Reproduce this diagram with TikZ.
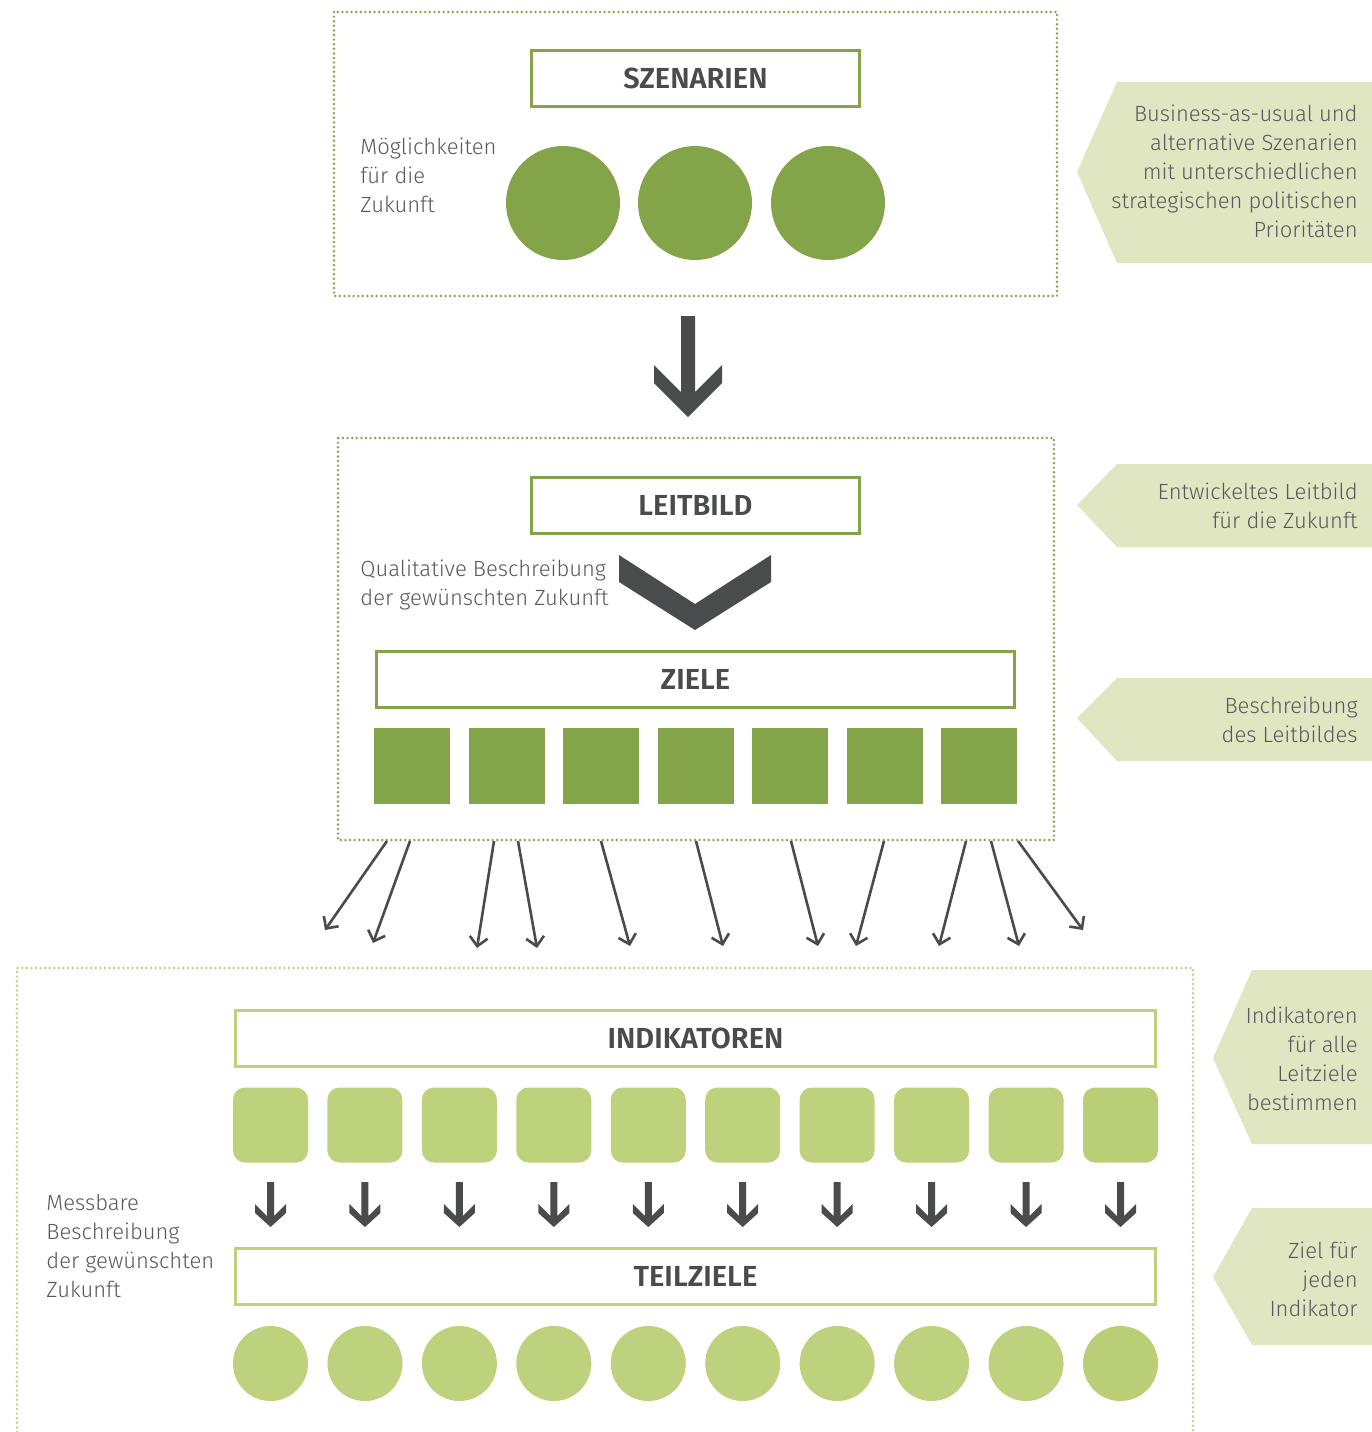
\documentclass[tikz,border=0pt]{standalone}
\usepackage{fontspec}
\setmainfont{Fira Sans}[UprightFont={* Light},BoldFont={* SemiBold}]
\usetikzlibrary{arrows.meta}
\definecolor{dgreen}{HTML}{84A44A}
\definecolor{lgreen}{HTML}{BED17C}
\definecolor{lgreenb}{HTML}{BACE76}
\definecolor{pale}{HTML}{DFE6C1}
\definecolor{dgray}{HTML}{4A4B4D}
\definecolor{tgray}{HTML}{58595B}
\begin{document}
\begin{tikzpicture}[x=0.5pt,y=-0.5pt,
  dotframe/.style={line width=1.35pt,dash pattern=on 0pt off 2.3pt,line cap=round},
  headbox/.style={draw=#1,line width=1.5pt,fill=white,inner sep=0pt,minimum height=28pt,text=dgray,font=\bfseries\fontsize{14.5}{17}\selectfont},
  bodytext/.style={inner sep=0pt,text=tgray,font=\fontsize{11}{14.5}\selectfont},
  sidetag/.style={fill=pale,draw=none},
  thinarrow/.style={draw=dgray,line width=1.3pt,-{Straight Barb[length=4.5pt,width=9pt]}},
  solidarrow/.style={fill=dgray},
  zsq/.style={fill=dgreen,inner sep=0pt,minimum size=38pt},
  scirc/.style={circle,fill=dgreen,inner sep=0pt,minimum size=57pt},
  isq/.style={fill=#1,rounded corners=6pt,inner sep=0pt,minimum size=37.5pt},
  tcirc/.style={circle,fill=#1,inner sep=0pt,minimum size=37.5pt}]
\useasboundingbox (0,0) rectangle (1372,1432);
\fill[white] (0,0) rectangle (1372,1432);

% ---------- frames ----------
\draw[dotframe,dgreen] (334,12) rectangle (1057,296);
\draw[dotframe,dgreen] (338,438) rectangle (1054,840);
\draw[dotframe,lgreen] (17,1432) -- (17,968) -- (1193,968) -- (1193,1432);

% ---------- side tags ----------
\fill[sidetag] (1117,82) -- (1372,82) -- (1372,263) -- (1117,263) -- (1077,172) -- cycle;
\fill[sidetag] (1117,464) -- (1372,464) -- (1372,547) -- (1117,547) -- (1077,505) -- cycle;
\fill[sidetag] (1117,678) -- (1372,678) -- (1372,761) -- (1117,761) -- (1077,718) -- cycle;
\fill[sidetag] (1252,970) -- (1372,970) -- (1372,1144) -- (1252,1144) -- (1213,1058) -- cycle;
\fill[sidetag] (1252,1208) -- (1372,1208) -- (1372,1345) -- (1252,1345) -- (1213,1277) -- cycle;

\node[bodytext,anchor=north east,align=right] (t1) at (1358,105)
  {Business-as-usual und\\alternative Szenarien\\mit unterschiedlichen\\strategischen politischen\\Prioritäten};
\node[bodytext,anchor=north east,align=right] (t2) at (1358,482.5)
  {Entwickeltes Leitbild\\für die Zukunft};
\node[bodytext,anchor=north east,align=right] (t3) at (1358,696.5)
  {Beschreibung\\des Leitbildes};
\node[bodytext,anchor=north east,align=right] (t4) at (1358,1006.5)
  {Indikatoren\\für alle\\Leitziele\\bestimmen};
\node[bodytext,anchor=north east,align=right] (t5) at (1358,1241.5)
  {Ziel für\\jeden\\Indikator};

% ---------- Szenarien ----------
\node[headbox=dgreen,minimum width=164pt] (szen) at (695.5,78) {SZENARIEN};
\node[bodytext,anchor=north west,align=left] (moeg) at (360,137.5) {Möglichkeiten\\für die\\Zukunft};
\node[scirc] (s1) at (563,203) {};
\node[scirc] (s2) at (695,203) {};
\node[scirc] (s3) at (828,203) {};

% big arrow
\fill[solidarrow] (681,316) -- (695,316) -- (695,392) -- (722,365) -- (722,383) -- (688,417)
  -- (654,383) -- (654,365) -- (681,392) -- cycle;

% ---------- Leitbild ----------
\node[headbox=dgreen,minimum width=164pt] (leit) at (695.5,505) {LEITBILD};
\node[bodytext,anchor=north west,align=left] (qual) at (360,559.5) {Qualitative Beschreibung\\der gewünschten Zukunft};
\fill[solidarrow] (619,555) -- (695,604) -- (771,555) -- (771,582) -- (695,630) -- (619,582) -- cycle;

\node[headbox=dgreen,minimum width=319pt] (ziele) at (695.5,679) {ZIELE};
\foreach \i in {0,...,6} {
  \node[zsq] (z\i) at ({412+94.5*\i},765.5) {};
}

% thin arrows
\foreach \n/\sx/\ex/\ey in {1/387/325/930, 2/410/373/943, 3/494/477/948, 4/518/537/948,
  5/601/630/946, 6/696/723/946, 7/791/818/946, 8/884/856/946, 9/966/939/946,
  10/991/1019/946, 11/1018/1083/930} {
  \coordinate (as\n) at (\sx,841);
  \coordinate (ae\n) at (\ex,\ey);
  \draw[thinarrow] (as\n) -- (ae\n);
}

% ---------- Indikatoren / Teilziele ----------
\node[headbox=lgreen,minimum width=460pt] (ind) at (695.5,1038.5) {INDIKATOREN};
\node[headbox=lgreen,minimum width=460pt] (teil) at (695.5,1276.5) {TEILZIELE};
\node[bodytext,anchor=north west,align=left] (mess) at (46,1193.5) {Messbare\\Beschreibung\\der gewünschten\\Zukunft};

\foreach \i/\c in {0/lgreen,1/lgreen,2/lgreen,3/lgreen,4/lgreen,5/lgreen,6/lgreen,7/lgreen,8/lgreen,9/lgreenb} {
  \pgfmathsetmacro\cx{270.5+94.444*\i}
  \node[isq=\c] (i\i) at (\cx,1125) {};
  \node[tcirc=\c] (c\i) at (\cx,1363.5) {};
  \fill[solidarrow] (\cx-3.5,1182) -- (\cx+3.5,1182) -- (\cx+3.5,1216) -- (\cx+15.5,1204)
    -- (\cx+15.5,1213) -- (\cx,1227) -- (\cx-15.5,1213) -- (\cx-15.5,1204) -- (\cx-3.5,1216) -- cycle;
}
\end{tikzpicture}
\end{document}
